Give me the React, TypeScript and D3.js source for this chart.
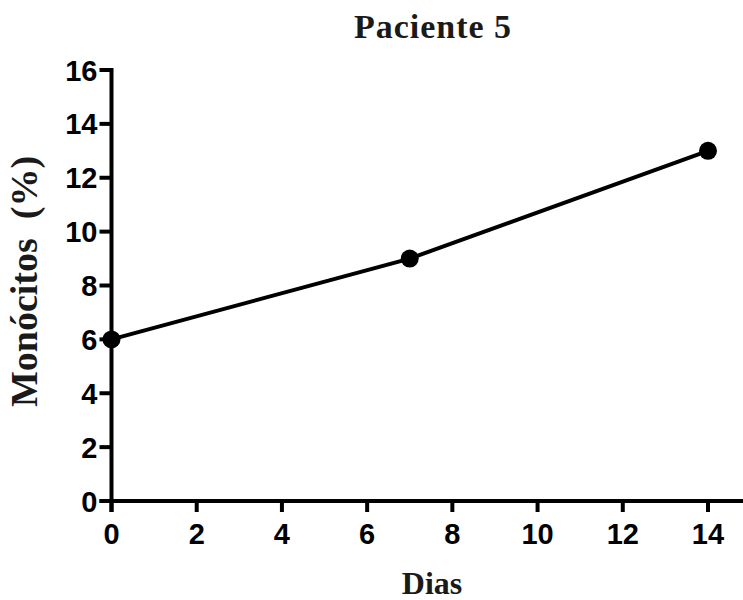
import React from "react";
import * as d3 from "d3";

const days = [0, 7, 14];
const monocitos = [6, 9, 13];
const xTicks = [0, 2, 4, 6, 8, 10, 12, 14];
const yTicks = [0, 2, 4, 6, 8, 10, 12, 14, 16];

export default function App() {
  const W = 743, H = 600;
  const x = d3.scaleLinear().domain([0, 14]).range([111.5, 708]);
  const y = d3.scaleLinear().domain([0, 16]).range([501, 70]);
  const line = d3.line<number>().x((_, i) => x(days[i])).y((d) => y(d));
  const tickFont = "Liberation Sans, Arial, sans-serif";
  const serif = "Liberation Serif, Times New Roman, serif";
  return (
    <svg width={W} height={H} style={{ position: "absolute", left: 0, top: 0 }}>
      <rect width={W} height={H} fill="#fff" />
      <text x={433} y={38} textAnchor="middle" fontFamily={serif} fontWeight="bold" fontSize={34} letterSpacing={1} fill="#1a1a1a">Paciente 5</text>
      {/* axes */}
      <line x1={x(0)} x2={x(0)} y1={y(16) - 2} y2={y(0) + 11} stroke="#000" strokeWidth={4} />
      <line x1={x(0) - 12} x2={W + 10} y1={y(0)} y2={y(0)} stroke="#000" strokeWidth={4} />
      {yTicks.map((t) => (
        <g key={"y" + t}>
          <line x1={x(0) - 12} x2={x(0)} y1={y(t)} y2={y(t)} stroke="#000" strokeWidth={4} />
          <text x={x(0) - 14} y={y(t) + 10.5} textAnchor="end" fontFamily={tickFont} fontWeight="bold" fontSize={29} fill="#000">{t}</text>
        </g>
      ))}
      {xTicks.map((t) => (
        <g key={"x" + t}>
          <line x1={x(t)} x2={x(t)} y1={y(0)} y2={y(0) + 11} stroke="#000" strokeWidth={4} />
          <text x={x(t)} y={y(0) + 43} textAnchor="middle" fontFamily={tickFont} fontWeight="bold" fontSize={29} fill="#000">{t}</text>
        </g>
      ))}
      <text x={432} y={594} textAnchor="middle" fontFamily={serif} fontWeight="bold" fontSize={32} fill="#1a1a1a">Dias</text>
      <text transform={`translate(37,281.5) rotate(-90)`} textAnchor="middle" fontFamily={serif} fontWeight="bold" fontSize={38} fill="#1a1a1a" style={{ whiteSpace: "pre" }}>{"Monócitos  (%)"}</text>
      <path d={line(monocitos) || ""} fill="none" stroke="#000" strokeWidth={4} />
      {monocitos.map((v, i) => (
        <circle key={i} cx={x(days[i])} cy={y(v)} r={9} fill="#000" />
      ))}
    </svg>
  );
}
